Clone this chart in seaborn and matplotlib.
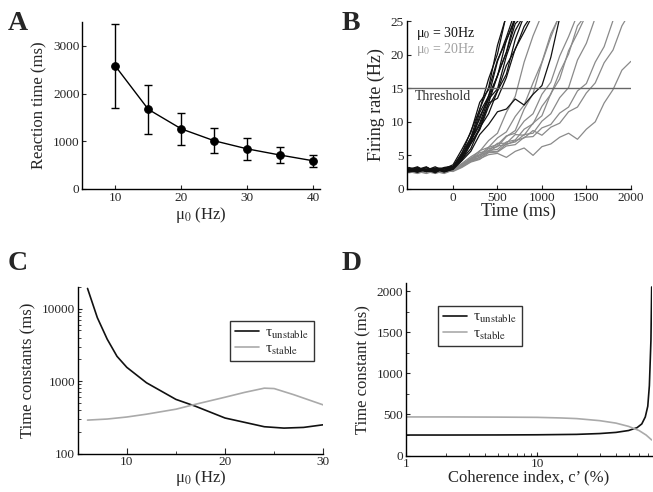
"""Four-panel figure: reaction times, firing-rate traces and time constants."""
import matplotlib
matplotlib.use('Agg')
import matplotlib.pyplot as plt
import matplotlib.ticker as mticker
import pandas as pd
import seaborn as sns

# ---- panel A: reaction time vs mu0
mu_a = [10, 15, 20, 25, 30, 35, 40]
rt_mean = [2580, 1670, 1260, 1010, 840, 710, 590]
rt_err = [875, 515, 340, 265, 225, 175, 120]

# ---- panel B: firing-rate traces (sampled every 100 ms)
times_b = [-500, -400, -300, -200, -100, 0, 100, 200, 300, 400, 500, 600, 700,
           800, 900, 1000, 1100, 1200, 1300, 1400, 1500, 1600, 1700, 1800,
           1900, 2000]
traces_30hz = [
    [2.9, 2.5, 3.2, 2.6, 3.1, 3.3, 5.0, 7.1, 11.4, 13.8, 19.0, 22.6, 26.5],
    [2.6, 3.1, 2.7, 3.0, 2.5, 3.0, 4.6, 6.8, 9.0, 12.8, 16.9, 20.4, 25.5],
    [3.1, 2.6, 2.9, 2.4, 3.2, 3.4, 5.3, 8.6, 11.8, 16.4, 20.1, 26.0],
    [2.8, 3.2, 2.6, 2.9, 2.7, 3.1, 4.4, 6.0, 9.1, 11.2, 14.6, 17.1, 22.3, 25.8],
    [2.7, 2.9, 3.3, 2.5, 3.0, 3.2, 4.8, 7.3, 9.8, 13.4, 14.9, 19.8, 23.6, 26.0],
    [3.0, 2.7, 2.8, 3.3, 2.6, 2.9, 4.2, 5.6, 8.1, 9.6, 11.5, 11.9, 13.4, 12.5,
     14.1, 15.4, 19.6, 25.5],
    [2.9, 3.3, 2.6, 2.7, 3.0, 3.6, 5.9, 8.4, 12.9, 14.8, 19.2, 22.1, 25.6],
    [2.5, 2.8, 3.0, 2.9, 2.6, 3.0, 4.3, 6.7, 8.8, 12.3, 14.6, 18.4, 20.8, 24.2,
     26.2],
    [3.2, 2.9, 2.6, 3.1, 3.1, 3.3, 5.1, 6.9, 10.8, 13.4, 16.9, 20.3, 24.6, 26.0],
    [2.8, 2.5, 2.9, 3.1, 2.8, 3.1, 4.7, 7.2, 9.5, 12.8, 13.5, 16.6, 20.9, 23.4,
     26.0],
    [3.0, 2.8, 3.2, 2.7, 2.8, 3.2, 5.4, 7.6, 11.9, 15.1, 21.4, 25.8],
    [2.7, 3.0, 2.6, 2.8, 3.1, 3.1, 4.9, 7.7, 10.4, 13.9, 16.8, 22.2, 25.2],
]
traces_20hz = [
    [2.5, 2.8, 2.4, 2.8, 2.6, 2.8, 3.5, 4.5, 4.9, 6.0, 6.3, 7.8, 8.7, 11.9,
     14.2, 18.8, 22.6, 26.0],
    [2.6, 2.3, 2.7, 2.5, 2.8, 2.9, 3.8, 4.8, 5.6, 7.2, 8.3, 11.4, 13.8, 18.9,
     22.8, 26.0],
    [2.7, 2.4, 2.8, 2.6, 2.3, 2.8, 3.4, 4.3, 4.7, 5.7, 5.9, 7.0, 7.3, 8.9,
     9.7, 12.3, 14.1, 17.4, 20.1, 24.3, 26.0],
    [2.4, 2.6, 2.3, 2.7, 2.6, 2.7, 3.3, 4.1, 4.7, 5.5, 5.6, 6.7, 7.0, 8.1,
     8.3, 10.1, 11.2, 13.6, 15.1, 19.2, 21.7, 25.5],
    [2.6, 2.8, 2.5, 2.6, 2.7, 2.9, 3.6, 4.4, 5.4, 5.7, 6.8, 6.8, 8.1, 8.0,
     9.8, 10.9, 14.2, 16.4, 20.6, 23.2, 26.0],
    [2.5, 2.6, 2.8, 2.4, 2.7, 2.6, 3.2, 4.0, 4.4, 5.4, 5.5, 6.4, 6.6, 7.7,
     7.8, 9.1, 9.6, 11.3, 12.2, 14.6, 15.7, 18.9, 21.2, 25.1, 26.0],
    [2.6, 2.5, 2.7, 2.4, 2.8, 2.7, 3.4, 4.1, 4.5, 5.1, 5.3, 4.7, 5.6, 6.1,
     5.0, 6.3, 6.7, 7.7, 8.3, 7.4, 8.9, 10.0, 12.8, 14.8, 17.7, 19.0],
    [2.7, 2.6, 2.4, 2.8, 2.6, 2.8, 3.5, 4.2, 5.1, 5.5, 6.4, 6.6, 7.2, 7.6,
     8.7, 8.0, 9.2, 9.8, 11.5, 12.2, 14.3, 15.8, 18.8, 20.7, 24.3, 26.5],
    [2.5, 2.7, 2.6, 2.3, 2.7, 2.8, 3.5, 4.6, 5.1, 6.2, 6.6, 7.9, 8.3, 10.1,
     11.2, 14.1, 15.9, 19.8, 22.7, 26.0],
    [2.6, 2.8, 2.6, 2.6, 2.4, 2.9, 3.7, 4.5, 5.7, 6.2, 7.6, 8.5, 10.8, 12.5,
     15.8, 18.9, 23.1, 25.8],
]
threshold_hz = 15

# ---- panel C: time constants vs mu0 (log scale)
mu_c = [6, 7, 8, 9, 10, 12, 15, 17, 20, 22, 24, 26, 28, 30]
tau_unstable_c = [19000, 7500, 3800, 2200, 1550, 950, 560, 450, 310, 270, 235,
                  225, 230, 250]
mu_c_stable = [6, 8, 10, 12, 15, 17, 20, 22, 24, 25, 27, 30]
tau_stable_c = [290, 300, 320, 350, 410, 480, 600, 700, 800, 790, 650, 470]

# ---- panel D: time constants vs coherence (log x)
coh_d = [1, 2, 5, 10, 20, 30, 40, 50, 58, 63, 67, 70, 72, 74, 75]
tau_unstable_d = [250, 250, 251, 253, 258, 268, 282, 305, 340, 385, 470, 600,
                  850, 1400, 2050]
coh_d_stable = [1, 2, 5, 10, 15, 20, 30, 40, 50, 60, 68, 75]
tau_stable_d = [470, 470, 468, 465, 458, 450, 425, 395, 355, 305, 250, 190]

sns.set_style('ticks')
plt.rcParams['font.family'] = ['Liberation Serif', 'DejaVu Serif']
plt.rcParams['mathtext.fontset'] = 'stix'
plt.rcParams['xtick.direction'] = 'in'
plt.rcParams['ytick.direction'] = 'in'
plt.rcParams['axes.linewidth'] = 1.0
plt.rcParams['axes.edgecolor'] = 'black'

fig = plt.figure(figsize=(6.53, 4.92), dpi=100)
ax_a = fig.add_axes([0.126, 0.616, 0.364, 0.339])
ax_b = fig.add_axes([0.623, 0.616, 0.343, 0.341])
ax_c = fig.add_axes([0.119, 0.078, 0.376, 0.339])
ax_d = fig.add_axes([0.622, 0.074, 0.376, 0.351])

tick_fs = 9.5
lab_fs = 12
mu0 = '\u03bc$_0$'
tau_u = '\u03c4$_{\\rm unstable}$'
tau_s = '\u03c4$_{\\rm stable}$'

# A
ax_a.errorbar(mu_a, rt_mean, yerr=rt_err, fmt='none', ecolor='black',
              elinewidth=1, capsize=3, capthick=1)
sns.lineplot(x=mu_a, y=rt_mean, ax=ax_a, color='black', lw=1, marker='o',
             markersize=5.5, markeredgecolor='black')
ax_a.set_xlim(5, 41)
ax_a.set_ylim(0, 3500)
ax_a.set_xticks([10, 20, 30, 40])
ax_a.set_yticks([0, 1000, 2000, 3000])
ax_a.set_xlabel(mu0 + ' (Hz)', fontsize=lab_fs, labelpad=1)
ax_a.set_ylabel('Reaction time (ms)', fontsize=lab_fs)

# B
rows = []
for i, tr in enumerate(traces_30hz):
    for t, r in zip(times_b, tr):
        rows.append(('30', i, t, r))
for i, tr in enumerate(traces_20hz):
    for t, r in zip(times_b, tr):
        rows.append(('20', i, t, r))
df_b = pd.DataFrame(rows, columns=['mu', 'trial', 'time', 'rate'])
sns.lineplot(data=df_b, x='time', y='rate', hue='mu', units='trial',
             estimator=None, palette={'30': '#111111', '20': '#8a8a8a'},
             hue_order=['20', '30'], lw=0.9, legend=False, ax=ax_b)
ax_b.axhline(threshold_hz, color='#666666', lw=1)
ax_b.text(-430, 13.2, 'Threshold', fontsize=10, color='#333333')
ax_b.text(-420, 22.6, mu0 + ' = 30Hz', fontsize=10, color='#111111')
ax_b.text(-420, 20.2, mu0 + ' = 20Hz', fontsize=10, color='#a0a0a0')
ax_b.set_xlim(-520, 2000)
ax_b.set_ylim(0, 25)
ax_b.set_xticks([0, 500, 1000, 1500, 2000])
ax_b.set_yticks([0, 5, 10, 15, 20, 25])
ax_b.set_xlabel('Time (ms)', fontsize=13, labelpad=-1)
ax_b.set_ylabel('Firing rate (Hz)', fontsize=13)

# C
sns.lineplot(x=mu_c, y=tau_unstable_c, ax=ax_c, color='#111111', lw=1.2,
             label=tau_u)
sns.lineplot(x=mu_c_stable, y=tau_stable_c, ax=ax_c, color='#aaaaaa', lw=1.2,
             label=tau_s)
ax_c.set_yscale('log')
ax_c.set_xlim(5, 30)
ax_c.set_ylim(100, 20000)
ax_c.set_xticks([10, 20, 30])
ax_c.xaxis.set_minor_locator(mticker.FixedLocator([15, 25]))
ax_c.set_yticks([100, 1000, 10000])
ax_c.yaxis.set_major_formatter(mticker.FixedFormatter(['100', '1000', '10000']))
ax_c.set_xlabel(mu0 + ' (Hz)', fontsize=lab_fs, labelpad=0)
ax_c.set_ylabel('Time constants (ms)', fontsize=lab_fs)
leg = ax_c.legend(loc='upper left', bbox_to_anchor=(0.59, 0.84), fontsize=11,
                  frameon=True, fancybox=False, edgecolor='black',
                  handlelength=1.6, borderpad=0.3, labelspacing=0.1,
                  handletextpad=0.4)
leg.get_frame().set_linewidth(1)

# D
sns.lineplot(x=coh_d, y=tau_unstable_d, ax=ax_d, color='#111111', lw=1.2,
             label=tau_u)
sns.lineplot(x=coh_d_stable, y=tau_stable_d, ax=ax_d, color='#aaaaaa', lw=1.2,
             label=tau_s)
ax_d.set_xscale('log')
ax_d.set_xlim(1, 75)
ax_d.set_ylim(0, 2100)
ax_d.set_xticks([1, 10])
ax_d.xaxis.set_major_formatter(mticker.FixedFormatter(['1', '10']))
ax_d.set_yticks([0, 500, 1000, 1500, 2000])
ax_d.yaxis.set_minor_locator(mticker.MultipleLocator(250))
ax_d.set_xlabel("Coherence index, c\u2019 (%)", fontsize=lab_fs, labelpad=-1)
ax_d.set_ylabel('Time constant (ms)', fontsize=lab_fs)
leg = ax_d.legend(loc='upper left', bbox_to_anchor=(0.1, 0.91), fontsize=11,
                  frameon=True, fancybox=False, edgecolor='black',
                  handlelength=1.6, borderpad=0.3, labelspacing=0.1,
                  handletextpad=0.4)
leg.get_frame().set_linewidth(1)

for ax in (ax_a, ax_b, ax_c, ax_d):
    sns.despine(ax=ax)
    ax.tick_params(which='major', length=3, width=0.8, labelsize=tick_fs, pad=2)
    ax.tick_params(which='minor', length=2, width=0.6)
ax_c.tick_params(axis='x', which='major', length=4)

for lbl, x, y in [('A', 0.012, 0.94), ('B', 0.523, 0.94),
                  ('C', 0.012, 0.452), ('D', 0.523, 0.452)]:
    fig.text(x, y, lbl, fontsize=20, fontweight='bold')

fig.savefig('out.png', dpi=100)
